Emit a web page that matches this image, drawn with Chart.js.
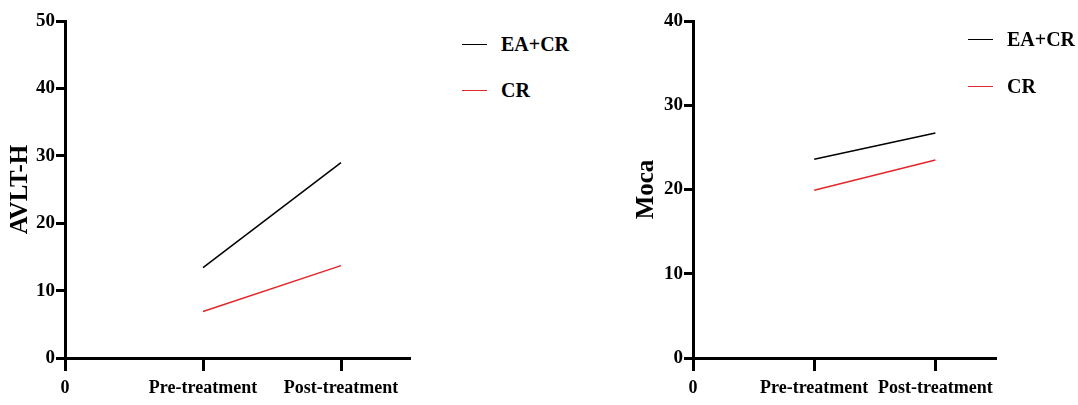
<!DOCTYPE html>
<html>
<head>
<meta charset="utf-8">
<script src="https://cdn.jsdelivr.net/npm/chart.js@4"></script>
<style>
  html, body { margin:0; padding:0; background:#fff; }
  #wrap { position:relative; width:1078px; height:405px; overflow:hidden; }
  canvas { position:absolute; top:0; }
  .legend { position:absolute; top:0; font-family:"Liberation Serif", serif; font-weight:bold; font-size:20px; color:#000; }
  .legend .item { position:absolute; left:0; height:24px; line-height:24px; white-space:nowrap; display:flex; align-items:center; }
  .legend .swatch { display:inline-block; width:25px; height:0; border-top:1.5px solid; margin-right:14px; }
</style>
</head>
<body>
<div id="wrap">
  <canvas id="avltChart" width="430" height="405" style="left:0px"></canvas>
  <canvas id="mocaChart" width="386" height="405" style="left:620px"></canvas>
  <div id="avltLegend" class="legend" style="left:462px"></div>
  <div id="mocaLegend" class="legend" style="left:968px"></div>
</div>
<script>
// ====== DATA ======
const xTickValues = [0, 1, 2];
const xTickLabels = ['0', 'Pre-treatment', 'Post-treatment'];
const timePoints  = [1, 2];              // Pre, Post
const seriesNames = ['EA+CR', 'CR'];

const avltEACR = [13.4, 29.0];
const avltCR   = [6.9, 13.7];
const mocaEACR = [23.6, 26.7];
const mocaCR   = [19.9, 23.5];

// ====== STYLE ======
const seriesColors = ['#000000', '#e3262b'];
const FONT = '"Liberation Serif", "Times New Roman", serif';

// ====== HELPERS ======
function makePanel(canvasId, cfg){
  const ctx = document.getElementById(canvasId).getContext('2d');
  return new Chart(ctx, {
    type: 'line',
    data: {
      datasets: cfg.series.map((vals, i) => ({
        label: seriesNames[i],
        data: timePoints.map((t, k) => ({ x: t, y: vals[k] })),
        borderColor: seriesColors[i],
        backgroundColor: seriesColors[i],
        borderWidth: 1.5,
        pointRadius: 0,
        fill: false,
        tension: 0
      }))
    },
    options: {
      responsive: false,
      animation: false,
      layout: { padding: { top: 21, right: cfg.padRight, bottom: 0, left: 0 } },
      plugins: { legend: { display: false }, tooltip: { enabled: false } },
      scales: {
        x: {
          type: 'linear', min: 0, max: 2.5,
          afterFit: s => { s.height = 47; },
          afterBuildTicks: s => { s.ticks = xTickValues.map(v => ({ value: v })); },
          ticks: {
            callback: (v, i) => xTickLabels[i],
            color: '#000', padding: 7, maxRotation: 0, autoSkip: false,
            font: { family: FONT, size: 18, weight: 'bold' }
          },
          grid: { drawOnChartArea: false, tickLength: 13, tickWidth: 3, color: '#000', tickColor: '#000' },
          border: { display: true, width: 3, color: '#000' }
        },
        y: {
          min: 0, max: cfg.yMax,
          afterFit: s => { s.width = cfg.yAxisWidth; },
          ticks: {
            stepSize: 10, color: '#000', padding: 1,
            font: { family: FONT, size: 19, weight: 'bold' }
          },
          grid: { drawOnChartArea: false, tickLength: 9, tickWidth: 3, color: '#000', tickColor: '#000' },
          border: { display: true, width: 3, color: '#000' },
          title: {
            display: true, text: cfg.title, color: '#000',
            padding: { top: cfg.titlePad, bottom: 0 },
            font: { family: FONT, size: 25, weight: 'bold' }
          }
        }
      }
    }
  });
}

function buildLegend(chart, divId, centers){
  const items = Chart.defaults.plugins.legend.labels.generateLabels(chart);
  const div = document.getElementById(divId);
  items.forEach((it, i) => {
    const row = document.createElement('div');
    row.className = 'item';
    row.style.top = (centers[i] - 12) + 'px';
    const sw = document.createElement('span');
    sw.className = 'swatch';
    sw.style.borderTopColor = it.strokeStyle;
    const tx = document.createElement('span');
    tx.textContent = it.text;
    row.appendChild(sw);
    row.appendChild(tx);
    div.appendChild(row);
  });
}

// ====== CHARTS ======
const avltChart = makePanel('avltChart', {
  series: [avltEACR, avltCR], yMax: 50, title: 'AVLT-H',
  yAxisWidth: 65, titlePad: 6, padRight: 20
});
const mocaChart = makePanel('mocaChart', {
  series: [mocaEACR, mocaCR], yMax: 40, title: 'Moca',
  yAxisWidth: 73, titlePad: 12, padRight: 10
});

buildLegend(avltChart, 'avltLegend', [44, 90]);
buildLegend(mocaChart, 'mocaLegend', [39, 86]);
</script>
</body>
</html>
